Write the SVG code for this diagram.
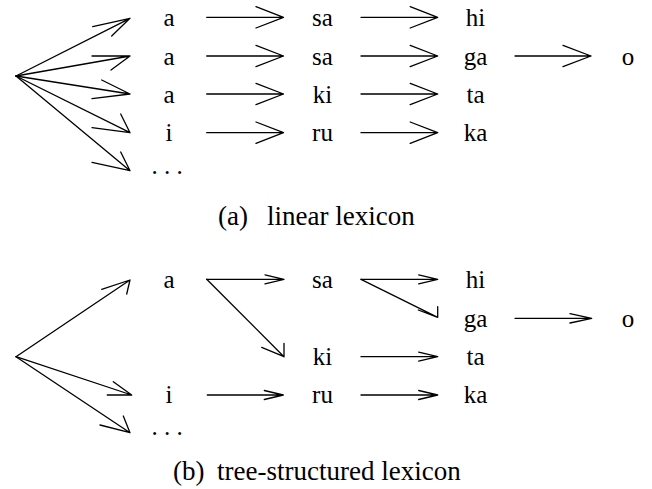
<svg xmlns="http://www.w3.org/2000/svg" width="652" height="489" viewBox="0 0 652 489">
<style>
.arr{fill:none;stroke:#000;stroke-width:1.3;stroke-linecap:round;stroke-linejoin:round}
text{font-family:'Liberation Serif','Times New Roman',serif;fill:#000}
.lb{font-size:25px;text-anchor:middle}
.cap{font-size:27px}
</style>
<rect width="652" height="489" fill="#fff"/>
<g id="connectors">
<path class="arr" d="M16,76 L130,18.3 M92.7,26.7 L130,18.3 L111.7,36"/>
<path class="arr" d="M16,76 L130,56 M92,56 L130,56 L111,70"/>
<path class="arr" d="M16,76 L130,94 M101.7,80 L130,94 L92,98.7"/>
<path class="arr" d="M16,76 L130,132.7 M120.7,114 L130,132.7 L92,127.7"/>
<path class="arr" d="M16,76 L130,170.7 M120.7,152 L130,170.7 L92,162.3"/>
<path class="arr" d="M206.7,17.3 H283.5 M256,6.6 L283.5,17.3 L256,28"/>
<path class="arr" d="M206.7,56 H283.5 M256,45.3 L283.5,56 L256,66.7"/>
<path class="arr" d="M206.7,94 H283.5 M256,83.3 L283.5,94 L256,104.7"/>
<path class="arr" d="M206.7,132.7 H283.5 M256,122 L283.5,132.7 L256,143.4"/>
<path class="arr" d="M361,17.3 H437.7 M410.2,6.6 L437.7,17.3 L410.2,28"/>
<path class="arr" d="M361,56 H437.7 M410.2,45.3 L437.7,56 L410.2,66.7"/>
<path class="arr" d="M361,94 H437.7 M410.2,83.3 L437.7,94 L410.2,104.7"/>
<path class="arr" d="M361,132.7 H437.7 M410.2,122 L437.7,132.7 L410.2,143.4"/>
<path class="arr" d="M515,56 H591 M563,45.3 L591,56 L563,66.7"/>
<path class="arr" d="M16,356.7 L130,280 M101.7,289.3 L130,280 L126.7,294"/>
<path class="arr" d="M16,356.7 L131.7,395 M113.3,381.7 L131.7,395 L107.3,395"/>
<path class="arr" d="M16,356.7 L130,432.7 M100,425 L130,432.7 L123.3,416"/>
<path class="arr" d="M206.7,279.3 H284 M265,274.8 L284,279.3 L265,283.8"/>
<path class="arr" d="M206.7,279.3 L284,356.7 M261.7,347.3 L284,356.7 L284,343.3"/>
<path class="arr" d="M207.3,395 H283.3 M264.3,390.5 L283.3,395 L264.3,399.5"/>
<path class="arr" d="M361,279.3 H437.7 M418.7,274.8 L437.7,279.3 L418.7,283.8"/>
<path class="arr" d="M361,279.3 L437.7,317.3 M418.3,310 L437.7,317.3 L437.7,306.7"/>
<path class="arr" d="M361,356.7 H437.7 M418.7,352.2 L437.7,356.7 L418.7,361.2"/>
<path class="arr" d="M361,395 H437.7 M418.7,390.5 L437.7,395 L418.7,399.5"/>
<path class="arr" d="M515,318.3 H591.7 M570,313.6 L591.7,318.3 L570,323"/>
</g>
<g id="linear">
<g id="l-a1"><text class="lb" x="169" y="26">a</text></g>
<g id="l-a2"><text class="lb" x="169" y="64.5">a</text></g>
<g id="l-a3"><text class="lb" x="169" y="102.5">a</text></g>
<g id="l-i"><text class="lb" x="169" y="141">i</text></g>
<g id="l-dots"><text class="lb" x="167" y="173.5">. . .</text></g>
<g id="l-sa1"><text class="lb" x="322.5" y="26">sa</text></g>
<g id="l-sa2"><text class="lb" x="322.5" y="64.5">sa</text></g>
<g id="l-ki"><text class="lb" x="322.5" y="102.5">ki</text></g>
<g id="l-ru"><text class="lb" x="322.5" y="141">ru</text></g>
<g id="l-hi"><text class="lb" x="475.5" y="26">hi</text></g>
<g id="l-ga"><text class="lb" x="475.5" y="64.5">ga</text></g>
<g id="l-ta"><text class="lb" x="475.5" y="102.5">ta</text></g>
<g id="l-ka"><text class="lb" x="475.5" y="141">ka</text></g>
<g id="l-o"><text class="lb" x="628" y="64.5">o</text></g>
</g>
<g id="tree">
<g id="t-a"><text class="lb" x="169" y="287.5">a</text></g>
<g id="t-i"><text class="lb" x="169" y="403">i</text></g>
<g id="t-dots"><text class="lb" x="167" y="435">. . .</text></g>
<g id="t-sa"><text class="lb" x="322.5" y="287.5">sa</text></g>
<g id="t-ki"><text class="lb" x="322.5" y="365">ki</text></g>
<g id="t-ru"><text class="lb" x="322.5" y="403">ru</text></g>
<g id="t-hi"><text class="lb" x="475.5" y="287.5">hi</text></g>
<g id="t-ga"><text class="lb" x="475.5" y="326.5">ga</text></g>
<g id="t-ta"><text class="lb" x="475.5" y="365">ta</text></g>
<g id="t-ka"><text class="lb" x="475.5" y="403">ka</text></g>
<g id="t-o"><text class="lb" x="628" y="326.5">o</text></g>
</g>
<g id="captions">
<text class="cap" y="225"><tspan x="218">(a)</tspan><tspan x="267">linear lexicon</tspan></text>
<text class="cap" y="480"><tspan x="173">(b)</tspan><tspan x="217">tree-structured lexicon</tspan></text>
</g>
</svg>
